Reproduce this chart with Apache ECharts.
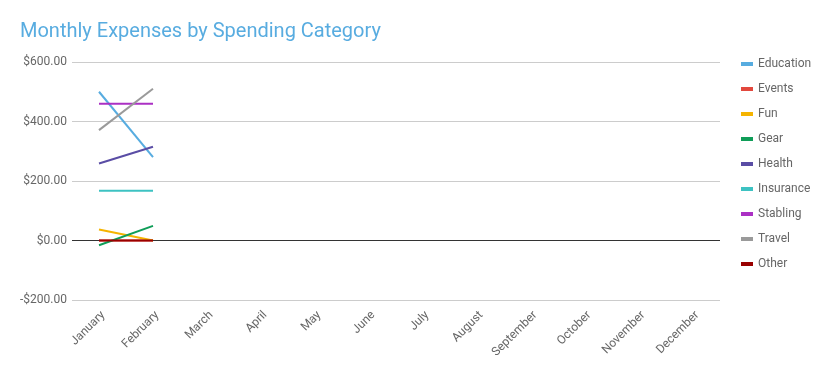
<!DOCTYPE html>
<html><head><meta charset="utf-8">
<script src="https://cdn.jsdelivr.net/npm/echarts@6/dist/echarts.min.js"></script>
<style>html,body{margin:0;padding:0;background:#fff}#c{width:832px;height:371px}</style>
</head><body><div id="c"></div>
<script>
const months = ['January','February','March','April','May','June','July','August','September','October','November','December'];
const seriesNames = ['Education','Events','Fun','Gear','Health','Insurance','Stabling','Travel','Other'];
const education = [500, 280, null, null, null, null, null, null, null, null, null, null];
const events    = [0, 0, null, null, null, null, null, null, null, null, null, null];
const fun       = [37, 0, null, null, null, null, null, null, null, null, null, null];
const gear      = [-16, 49, null, null, null, null, null, null, null, null, null, null];
const health    = [259, 315, null, null, null, null, null, null, null, null, null, null];
const insurance = [167, 167, null, null, null, null, null, null, null, null, null, null];
const stabling  = [460, 460, null, null, null, null, null, null, null, null, null, null];
const travel    = [371, 510, null, null, null, null, null, null, null, null, null, null];
const other     = [0, 0, null, null, null, null, null, null, null, null, null, null];
const yTicks = [-200, 0, 200, 400, 600];

const values = [education, events, fun, gear, health, insurance, stabling, travel, other];
const colors = ['#57ACE0','#E2483D','#F5B400','#0F9D58','#5A4DA5','#3DC2C2','#AB30C4','#9A9A9A','#990000'];

const series = seriesNames.map((n, i) => ({
  name: n, type: 'line', data: values[i], symbol: 'none', showSymbol: false,
  lineStyle: {width: 2, color: colors[i]}, itemStyle: {color: colors[i]},
  connectNulls: false, z: 3
}));
series[0].markLine = {
  silent: true, symbol: 'none', label: {show: false},
  lineStyle: {color: '#333', width: 1, type: 'solid'},
  data: [{yAxis: 0}], z: 2
};

const chart = echarts.init(document.getElementById('c'), null, {renderer: 'canvas'});
chart.setOption({
  animation: false,
  backgroundColor: '#fff',
  color: colors,
  title: {
    text: 'Monthly Expenses by Spending Category', left: 15, top: 17,
    textStyle: {fontFamily: 'Roboto', fontSize: 20, fontWeight: 'normal', color: '#58ACE0'}
  },
  legend: {
    orient: 'vertical', left: 736, top: 52,
    icon: 'rect', itemWidth: 12, itemHeight: 4, itemGap: 11,
    textStyle: {fontFamily: 'Roboto', fontSize: 12, color: '#666', lineHeight: 14},
    data: seriesNames
  },
  grid: {left: 72, right: 112, top: 62, bottom: 71, containLabel: false},
  xAxis: {
    type: 'category', data: months, boundaryGap: true,
    axisLine: {show: false, onZero: false}, axisTick: {show: false},
    axisLabel: {rotate: 45, interval: 0, margin: 9, verticalAlign: 'top',
      fontFamily: 'Roboto', fontSize: 12, color: '#666'},
    splitLine: {show: false}
  },
  yAxis: {
    type: 'value', min: yTicks[0], max: yTicks[yTicks.length - 1], interval: 200,
    axisLine: {show: false}, axisTick: {show: false},
    axisLabel: {margin: 5, fontFamily: 'Roboto', fontSize: 12, color: '#666',
      formatter: v => (v < 0 ? '-$' : '$') + Math.abs(v).toFixed(2)},
    splitLine: {lineStyle: {color: '#ccc', width: 1}}
  },
  series: series
});
</script></body></html>
